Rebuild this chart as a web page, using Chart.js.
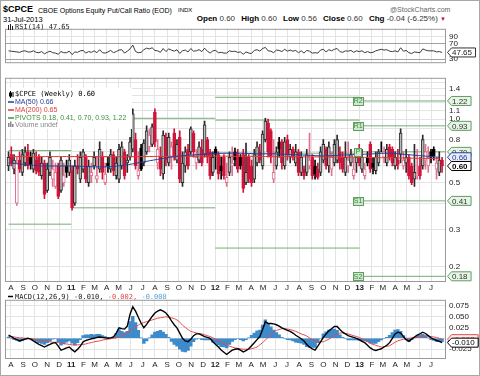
<!DOCTYPE html>
<html>
<head>
<meta charset="utf-8">
<script src="https://cdn.jsdelivr.net/npm/chart.js@4.4.0/dist/chart.umd.min.js"></script>
<style>
  body { margin: 0; background: #fff; }
  #wrap { position: relative; width: 480px; height: 376px; overflow: hidden; font-family: "Liberation Sans", Arial, sans-serif; }
  #wrap canvas { position: absolute; left: 0; }
  .t { position: absolute; white-space: nowrap; color: #000; }
  .frame { position: absolute; left: 0; top: 0; width: 480px; height: 376px; box-sizing: border-box; border: 1px solid #a8a8a8; pointer-events: none; }
  .hdr b { margin-left: 4px; }
</style>
</head>
<body>
<div id="wrap">
  <div class="t" style="left:3px;top:5px;font-size:9px;line-height:9px;font-weight:bold">$CPCE</div>
  <div class="t" style="left:38px;top:6.5px;font-size:7px;line-height:7px">CBOE Options Equity Put/Call Ratio (EOD)</div>
  <div class="t" style="left:178px;top:7px;font-size:6px;line-height:6px">INDX</div>
  <div class="t" style="left:3px;top:15.5px;font-size:7.5px;line-height:7.5px">31-Jul-2013</div>
  <div class="t" style="left:390px;top:6px;font-size:7px;line-height:7px;color:#666">@StockCharts.com</div>
  <div class="t hdr" style="right:34px;top:14.5px;font-size:8px;line-height:8px;color:#333"><b style="color:#000">Open</b> 0.60 <b style="color:#000">High</b> 0.60 <b style="color:#000">Low</b> 0.56 <b style="color:#000">Close</b> 0.60 <b style="color:#000">Chg</b> -0.04 (-6.25%) <span style="color:#c8102e;font-size:6px">&#9660;</span></div>
  <canvas id="rsi" width="480" height="49" style="top:21px"></canvas>
  <canvas id="price" width="480" height="223" style="top:70px"></canvas>
  <canvas id="macd" width="480" height="78" style="top:292px"></canvas>
  <div class="frame"></div>
</div>
<script>
// month labels, Aug 2010 .. Jul 2013
const tickLabels = ['A','S','O','N','D','11','F','M','A','M','J','J','A','S','O','N','D','12',
  'F','M','A','M','J','J','A','S','O','N','D','13','F','M','A','M','J','J'];

// weekly candles, first week starts 26-Jul-2010
const open = [
  0.60,0.68,0.58,0.40,0.64,0.56,0.62,0.70,0.66,0.58,
  0.64,0.66,0.54,0.62,0.46,0.56,0.52,0.48,0.60,0.46,
  0.50,0.60,0.56,0.57,0.40,0.60,0.52,0.58,0.66,0.50,
  0.54,0.60,0.52,0.58,0.66,0.50,0.62,0.58,0.68,0.54,
  0.52,0.60,0.70,0.62,0.66,0.72,0.80,0.54,0.73,0.62,
  0.70,0.74,0.76,1.08,0.62,0.66,0.55,0.82,0.62,0.66,
  0.86,0.64,0.82,0.50,0.60,0.72,0.70,0.86,0.62,0.64,
  0.72,0.68,0.80,0.70,0.56,0.72,0.68,0.60,0.66,0.50,
  0.56,0.60,0.70,0.68,0.66,0.68,0.50,0.66,0.60,0.52,
  0.62,0.70,0.60,0.80,0.96,0.88,0.52,0.60,0.78,0.78,
  0.60,0.80,0.66,0.72,0.62,0.70,0.56,0.58,0.56,0.60,
  0.66,0.60,0.58,0.56,0.64,0.72,0.60,0.58,0.62,0.64,
  0.70,0.66,0.56,0.60,0.62,0.54,0.62,0.70,0.58,0.54,
  0.66,0.76,0.62,0.57,0.62,0.75,0.66,0.62,0.74,0.72,
  0.60,0.64,0.68,0.60,0.62,0.66,0.60,0.52,0.54,0.60,
  0.60,0.64,0.60,0.70,0.72,0.58,0.56,0.64];
const high = [
  0.70,0.74,0.68,0.66,0.70,0.72,0.74,0.76,0.70,0.72,
  0.70,0.68,0.66,0.64,0.62,0.70,0.64,0.62,0.62,0.66,
  0.62,0.64,0.68,0.60,0.64,0.68,0.70,0.72,0.68,0.64,
  0.62,0.70,0.66,0.78,0.70,0.62,0.66,0.72,0.70,0.66,
  0.76,0.78,0.72,0.68,0.82,1.12,0.86,0.70,0.76,0.80,
  0.93,0.90,0.95,1.12,0.80,0.74,0.88,0.86,0.86,0.78,
  0.90,0.80,0.88,0.70,0.74,0.76,0.92,0.88,0.72,0.78,
  0.80,0.98,0.82,0.72,0.70,0.74,0.70,0.66,0.68,0.62,
  0.70,0.74,0.73,0.72,0.68,0.72,0.77,0.68,0.64,0.72,
  0.78,0.76,0.88,1.01,1.00,0.90,0.80,0.74,0.82,0.80,
  0.82,0.84,0.76,0.74,0.76,0.72,0.70,0.60,0.72,0.86,
  0.68,0.64,0.62,0.74,0.80,0.74,0.78,0.70,0.80,0.84,
  0.74,0.70,0.78,0.78,0.72,0.66,0.70,0.76,0.72,0.62,
  0.70,0.78,0.66,0.70,0.72,0.78,0.74,0.76,0.76,0.74,
  0.70,0.72,0.90,0.70,0.72,0.68,0.62,0.76,0.72,0.66,
  0.84,0.76,0.74,0.72,0.74,0.66,0.70,0.66];
const low = [
  0.57,0.60,0.55,0.39,0.56,0.54,0.60,0.58,0.58,0.56,
  0.55,0.54,0.52,0.42,0.45,0.54,0.48,0.47,0.42,0.45,
  0.48,0.53,0.54,0.37,0.39,0.55,0.50,0.56,0.50,0.48,
  0.50,0.58,0.50,0.56,0.52,0.49,0.56,0.56,0.54,0.52,
  0.50,0.58,0.52,0.56,0.64,0.70,0.58,0.52,0.57,0.60,
  0.68,0.70,0.74,0.74,0.58,0.54,0.52,0.60,0.60,0.58,
  0.64,0.62,0.50,0.48,0.56,0.58,0.68,0.66,0.58,0.62,
  0.60,0.66,0.62,0.52,0.54,0.58,0.52,0.52,0.52,0.48,
  0.54,0.54,0.60,0.56,0.58,0.45,0.49,0.50,0.48,0.50,
  0.60,0.62,0.58,0.78,0.66,0.62,0.50,0.58,0.66,0.58,
  0.58,0.64,0.62,0.64,0.60,0.54,0.54,0.52,0.54,0.58,
  0.52,0.52,0.52,0.54,0.62,0.58,0.56,0.54,0.60,0.62,
  0.58,0.56,0.54,0.56,0.60,0.52,0.56,0.60,0.56,0.52,
  0.60,0.56,0.55,0.55,0.60,0.70,0.62,0.60,0.64,0.60,
  0.58,0.58,0.62,0.58,0.56,0.52,0.49,0.48,0.52,0.52,
  0.58,0.58,0.56,0.62,0.64,0.52,0.54,0.56];
const close = [
  0.66,0.62,0.64,0.62,0.58,0.68,0.70,0.60,0.61,0.69,
  0.57,0.56,0.62,0.44,0.58,0.66,0.58,0.56,0.43,0.64,
  0.54,0.56,0.64,0.38,0.60,0.58,0.66,0.70,0.52,0.60,
  0.56,0.66,0.54,0.72,0.56,0.55,0.60,0.68,0.57,0.62,
  0.72,0.74,0.54,0.64,0.78,1.06,0.60,0.57,0.58,0.77,
  0.88,0.84,0.92,0.78,0.72,0.58,0.84,0.64,0.82,0.74,
  0.66,0.76,0.52,0.62,0.70,0.60,0.90,0.70,0.66,0.74,
  0.62,0.94,0.66,0.54,0.66,0.68,0.55,0.57,0.54,0.53,
  0.66,0.62,0.64,0.58,0.60,0.47,0.56,0.52,0.50,0.68,
  0.74,0.64,0.85,0.98,0.70,0.66,0.56,0.70,0.72,0.62,
  0.78,0.68,0.72,0.66,0.70,0.56,0.66,0.54,0.68,0.64,
  0.54,0.55,0.53,0.70,0.76,0.60,0.74,0.66,0.76,0.80,
  0.62,0.58,0.66,0.64,0.68,0.58,0.66,0.62,0.66,0.58,
  0.62,0.58,0.59,0.66,0.70,0.75,0.70,0.72,0.66,0.62,
  0.66,0.61,0.86,0.64,0.66,0.54,0.50,0.56,0.55,0.54,
  0.80,0.70,0.66,0.66,0.67,0.62,0.64,0.60];

// RSI(14), weekly
const rsi = [
  52,51,50,49,48,51,52,49,49,52, 48,47,50,44,48,51,47,46,43,50,
  47,47,51,42,49,48,52,53,46,50, 48,52,47,55,47,46,49,53,47,50,
  54,55,46,51,57,67,50,47,48,55, 59,57,60,53,52,48,58,50,57,54,
  51,55,45,52,54,49,58,51,52,55, 50,59,51,46,52,53,47,48,46,46,
  52,50,51,48,49,43,49,46,45,53, 55,51,58,61,52,51,47,54,53,50,
  56,51,54,51,53,47,52,46,53,51, 46,47,46,54,56,49,55,52,56,58,
  50,48,52,51,53,48,52,50,52,47, 50,47,48,52,54,56,54,55,51,50,
  52,49,60,51,53,47,45,49,48,47, 57,54,52,52,52,49,50,47.65];

// moving averages, one value every 6 weeks
const ma50 = [0.62,0.61,0.60,0.60,0.60,0.595,0.595,0.605,0.625,0.645,0.665,0.675,0.685,0.69,
  0.69,0.685,0.685,0.68,0.675,0.67,0.675,0.68,0.685,0.69,0.68,0.67,0.66];
const ma200 = [0.665,0.665,0.665,0.665,0.665,0.665,0.664,0.664,0.665,0.666,0.667,0.668,0.668,0.668,
  0.667,0.666,0.665,0.664,0.663,0.662,0.661,0.66,0.658,0.656,0.654,0.652,0.65];

// yearly pivot levels
const pivotYears = [2010, 2011, 2012, 2013];
const pivotR2 = [null, null, 1.27, 1.22];
const pivotR1 = [null, 1.01, 0.99, 0.93];
const pivotP  = [0.71, 0.665, 0.69, 0.70];
const pivotS1 = [0.318, 0.38, 0.245, 0.41];
const pivotS2 = [null, null, null, 0.18];

// MACD(12,26,9), weekly
const macd = [
  0.007,0.004,0.000,-0.003,-0.006,-0.004,-0.002,0.000,-0.002,-0.006,
  -0.010,-0.014,-0.017,-0.020,-0.017,-0.014,-0.011,-0.010,-0.018,-0.027,
  -0.025,-0.022,-0.020,-0.026,-0.031,-0.025,-0.018,-0.008,-0.005,-0.003,
  -0.001,0.000,0.002,0.003,0.002,0.001,0.000,0.001,0.003,0.012,
  0.024,0.022,0.021,0.028,0.055,0.072,0.062,0.048,0.035,0.024,
  0.032,0.041,0.050,0.058,0.062,0.065,0.062,0.058,0.050,0.040,
  0.031,0.024,0.012,0.000,-0.006,-0.008,-0.002,0.006,0.010,0.010,
  0.007,0.004,0.002,0.000,-0.008,-0.014,-0.020,-0.027,-0.032,-0.037,
  -0.032,-0.027,-0.025,-0.024,-0.027,-0.031,-0.028,-0.024,-0.017,-0.010,
  -0.003,0.004,0.020,0.038,0.034,0.034,0.033,0.031,0.028,0.024,
  0.021,0.018,0.016,0.012,0.007,0.003,-0.001,-0.006,-0.014,-0.020,
  -0.024,-0.027,-0.018,-0.008,0.002,0.010,0.017,0.022,0.027,0.027,
  0.020,0.014,0.010,0.006,0.004,0.002,0.000,-0.003,-0.007,-0.010,
  -0.016,-0.022,-0.026,-0.028,-0.026,-0.024,-0.020,-0.016,-0.010,0.000,
  0.010,0.014,0.012,0.004,-0.003,-0.007,-0.002,0.003,0.007,0.010,
  0.014,0.011,0.006,0.001,-0.002,-0.005,-0.007,-0.010];
const signal = [
  0.004,0.004,0.003,0.002,0.001,0.001,0.000,0.000,-0.001,-0.002,
  -0.003,-0.004,-0.005,-0.006,-0.007,-0.008,-0.009,-0.009,-0.010,-0.011,
  -0.012,-0.013,-0.014,-0.015,-0.015,-0.015,-0.015,-0.014,-0.013,-0.011,
  -0.010,-0.008,-0.007,-0.006,-0.004,-0.003,-0.002,-0.001,0.000,0.001,
  0.004,0.006,0.008,0.012,0.017,0.022,0.026,0.030,0.034,0.036,
  0.038,0.040,0.042,0.044,0.046,0.047,0.048,0.049,0.048,0.047,
  0.045,0.042,0.037,0.030,0.025,0.020,0.016,0.014,0.012,0.011,
  0.010,0.008,0.006,0.004,0.001,-0.002,-0.005,-0.008,-0.012,-0.015,
  -0.018,-0.020,-0.022,-0.023,-0.024,-0.025,-0.025,-0.025,-0.024,-0.022,
  -0.020,-0.015,-0.010,-0.004,0.002,0.008,0.014,0.018,0.020,0.022,
  0.022,0.021,0.020,0.018,0.016,0.013,0.010,0.008,0.005,0.001,
  -0.003,-0.006,-0.008,-0.008,-0.008,-0.005,-0.002,0.002,0.006,0.009,
  0.012,0.012,0.011,0.010,0.008,0.006,0.004,0.002,-0.001,-0.004,
  -0.008,-0.011,-0.014,-0.016,-0.018,-0.020,-0.019,-0.018,-0.017,-0.013,
  -0.009,-0.006,-0.004,-0.002,0.000,0.000,0.001,0.001,0.002,0.003,
  0.005,0.005,0.005,0.004,0.003,0.002,0.000,-0.002];
const hist = [
  0.003,0.000,-0.003,-0.005,-0.007,-0.005,-0.002,0.000,-0.001,-0.004,
  -0.007,-0.010,-0.012,-0.014,-0.010,-0.006,-0.002,-0.001,-0.008,-0.016,
  -0.013,-0.009,-0.006,-0.011,-0.016,-0.010,-0.003,0.006,0.008,0.008,
  0.009,0.008,0.009,0.009,0.006,0.004,0.002,0.002,0.003,0.011,
  0.020,0.016,0.013,0.016,0.038,0.050,0.036,0.018,0.001,-0.012,
  -0.006,0.001,0.008,0.014,0.016,0.018,0.014,0.009,0.002,-0.007,
  -0.014,-0.018,-0.025,-0.030,-0.031,-0.028,-0.018,-0.008,-0.002,-0.001,
  -0.003,-0.004,-0.004,-0.004,-0.009,-0.012,-0.015,-0.019,-0.020,-0.022,
  -0.014,-0.007,-0.003,-0.001,-0.003,-0.006,-0.003,0.001,0.007,0.012,
  0.017,0.019,0.030,0.042,0.032,0.026,0.019,0.013,0.008,0.002,
  -0.001,-0.003,-0.004,-0.006,-0.009,-0.010,-0.011,-0.014,-0.019,-0.021,
  -0.021,-0.021,-0.010,0.000,0.010,0.015,0.019,0.020,0.021,0.018,
  0.008,0.002,-0.001,-0.004,-0.004,-0.004,-0.004,-0.005,-0.006,-0.006,
  -0.008,-0.011,-0.012,-0.012,-0.008,-0.004,-0.001,0.002,0.007,0.013,
  0.019,0.020,0.016,0.006,-0.003,-0.007,-0.003,0.002,0.005,0.007,
  0.009,0.006,0.001,-0.003,-0.005,-0.007,-0.007,-0.008];

const rsiTicks = [30, 70, 90];
const priceTicks = [0.2,0.3,0.4,0.5,0.6,0.7,0.8,0.9,1.0,1.1,1.2,1.3,1.4,1.5];
const priceLabelled = [0.2,0.3,0.5,0.8,1.0,1.1,1.4];
const macdTicks = [-0.025, 0, 0.025, 0.05, 0.075];

[open, high, low, close, rsi, macd, signal, hist].forEach((a, k) => {
  if (a.length !== 158) throw new Error('series ' + k + ' has ' + a.length);
});

// x axis in days from 1-Aug-2010
const DAY = 86400000;
const ORIGIN = Date.UTC(2010, 7, 1);
const dayOf = (y, m, d) => (Date.UTC(y, m, d) - ORIGIN) / DAY;
const weekX = i => dayOf(2010, 6, 26) + 7 * i;
const monthTicks = tickLabels.map((_, k) => dayOf(2010, 7 + k, 1));
const X_MIN = -15, X_MAX = 1103;

const GRID = '#e3e3e3';
const RED = '#d2143a', PINK = '#e2708f';

function xAxis(showLabels) {
  return {
    type: 'linear', min: X_MIN, max: X_MAX, offset: false,
    afterBuildTicks: s => { s.ticks = monthTicks.map(v => ({ value: v })); },
    afterFit: s => { s.height = showLabels ? 12 : 0; },
    grid: { color: GRID, drawTicks: false, offset: false },
    border: { display: false },
    ticks: {
      display: showLabels, autoSkip: false, maxRotation: 0, padding: 2, color: '#222',
      font: c => ({ family: 'Liberation Sans', size: 8, weight: /^\d/.test(tickLabels[c.index] || '') ? 'bold' : 'normal' }),
      callback: (v, i) => tickLabels[i]
    }
  };
}

function yTicks(extra) {
  return Object.assign({ padding: 3, color: '#222', font: { family: 'Liberation Sans', size: 8 } }, extra);
}

const baseOptions = {
  responsive: false, animation: false, events: [],
  layout: { padding: { left: 5, right: 0, top: 0, bottom: 0 } },
  plugins: { legend: { display: false }, tooltip: { enabled: false } }
};

function tag(ctx, x, y, text, stroke, fill, color, bold) {
  ctx.save();
  ctx.font = (bold ? 'bold ' : '') + '8px "Liberation Sans"';
  const w = ctx.measureText(text).width + 5, h = 9;
  ctx.beginPath();
  ctx.moveTo(x + 0.5, y);
  ctx.lineTo(x + 4.5, y - h / 2);
  ctx.lineTo(x + w + 3.5, y - h / 2);
  ctx.lineTo(x + w + 3.5, y + h / 2);
  ctx.lineTo(x + 4.5, y + h / 2);
  ctx.closePath();
  ctx.fillStyle = fill; ctx.fill();
  ctx.strokeStyle = stroke; ctx.lineWidth = 1; ctx.stroke();
  ctx.fillStyle = color; ctx.textBaseline = 'middle';
  ctx.fillText(text, x + 5, y + 0.5);
  ctx.restore();
}

function border(chart) {
  const a = chart.chartArea, ctx = chart.ctx;
  ctx.save();
  ctx.strokeStyle = '#9a9a9a'; ctx.lineWidth = 1;
  ctx.strokeRect(a.left + 0.5, a.top + 0.5, a.right - a.left - 1, a.bottom - a.top);
  ctx.restore();
}

function legendLine(ctx, y, color, text, font, x) {
  ctx.strokeStyle = color; ctx.lineWidth = 1.5;
  ctx.beginPath(); ctx.moveTo(8, y); ctx.lineTo(14, y); ctx.stroke();
  ctx.fillStyle = color; ctx.font = font; ctx.textBaseline = 'middle';
  ctx.fillText(text, x || 15, y + 0.5);
}

// ---------- RSI panel ----------
new Chart(document.getElementById('rsi'), {
  type: 'line',
  data: { datasets: [{
    data: rsi.map((v, i) => ({ x: weekX(i), y: v })),
    borderColor: '#3a3a3a', borderWidth: 1, pointRadius: 0, tension: 0
  }] },
  options: Object.assign({}, baseOptions, {
    scales: {
      x: xAxis(false),
      y: {
        position: 'right', min: 22, max: 110,
        afterFit: s => { s.width = 34; },
        afterBuildTicks: s => { s.ticks = rsiTicks.map(v => ({ value: v })); },
        grid: { drawTicks: false, color: c => (c.tick && c.tick.value === 90) ? GRID : '#a0a0a0' },
        border: { display: false },
        ticks: yTicks({})
      }
    }
  }),
  plugins: [{
    id: 'rsiDecor',
    afterDraw(chart) {
      const ctx = chart.ctx;
      border(chart);
      ctx.save();
      ctx.fillStyle = '#222';
      ctx.fillRect(8, 4, 1, 5); ctx.fillRect(10, 3, 1, 6); ctx.fillRect(12, 5, 1, 4);
      ctx.font = '7px "DejaVu Sans Mono"'; ctx.textBaseline = 'middle';
      ctx.fillText('RSI(14) ' + rsi[rsi.length - 1].toFixed(2), 15, 6.5);
      ctx.restore();
      const y = chart.scales.y.getPixelForValue(rsi[rsi.length - 1]);
      tag(ctx, chart.chartArea.right + 1, y, rsi[rsi.length - 1].toFixed(2), '#333', '#fff', '#222', false);
    }
  }]
});

// ---------- price panel ----------
const candleStyle = close.map((c, i) => {
  const prev = i ? close[i - 1] : open[i];
  const up = c >= prev, hollow = c > open[i];
  if (hollow) return up ? { fill: '#b9b9b9', line: '#2a2a2a' } : { fill: '#ffffff', line: PINK };
  return up ? { fill: '#000', line: '#000' } : { fill: RED, line: RED };
});

const pivotSets = [];
const levelSets = [pivotR2, pivotR1, pivotP, pivotS1, pivotS2];
pivotYears.forEach((yr, k) => {
  const x0 = k === 0 ? weekX(0) : dayOf(yr, 0, 1);
  const x1 = yr === 2013 ? X_MAX : dayOf(yr + 1, 0, 1);
  levelSets.forEach(arr => {
    if (arr[k] == null) return;
    pivotSets.push({
      type: 'line', order: 6,
      data: [{ x: x0, y: arr[k] }, { x: x1, y: arr[k] }],
      borderColor: '#74ad74', borderWidth: 1, pointRadius: 0
    });
  });
});

new Chart(document.getElementById('price'), {
  type: 'bar',
  data: { datasets: pivotSets.concat([
    {
      order: 5, grouped: false, barThickness: 1,
      data: close.map((c, i) => ({ x: weekX(i), y: [low[i], high[i]] })),
      backgroundColor: candleStyle.map(s => s.line)
    },
    {
      order: 4, grouped: false, barThickness: 3, borderWidth: 1, borderSkipped: false,
      data: close.map((c, i) => ({ x: weekX(i), y: [Math.min(open[i], c), Math.max(open[i], c)] })),
      backgroundColor: candleStyle.map(s => s.fill),
      borderColor: candleStyle.map(s => s.line)
    },
    {
      type: 'line', order: 2,
      data: ma200.map((v, k) => ({ x: weekX(6 * k), y: v })),
      borderColor: '#e03a3a', borderWidth: 1, pointRadius: 0, tension: 0.3
    },
    {
      type: 'line', order: 1,
      data: ma50.map((v, k) => ({ x: weekX(6 * k), y: v })),
      borderColor: '#23409c', borderWidth: 1, pointRadius: 0, tension: 0.3
    }
  ]) },
  options: Object.assign({}, baseOptions, {
    scales: {
      x: xAxis(true),
      y: {
        type: 'logarithmic', position: 'right', min: 0.171, max: 1.571,
        afterFit: s => { s.width = 34; },
        afterBuildTicks: s => { s.ticks = priceTicks.map(v => ({ value: v })); },
        grid: { color: GRID, drawTicks: false },
        border: { display: false },
        ticks: yTicks({ callback: v => priceLabelled.includes(v) ? v.toFixed(1) : '' })
      }
    }
  }),
  plugins: [{
    id: 'priceDecor',
    afterDraw(chart) {
      const ctx = chart.ctx, a = chart.chartArea, ys = chart.scales.y, xs = chart.scales.x;
      border(chart);
      ctx.save();
      // legend
      ctx.fillStyle = '#fff';
      ctx.fillRect(a.left + 1, 18, 126, 41);
      ctx.fillStyle = '#000';
      ctx.fillRect(10, 21, 1, 7); ctx.fillRect(9, 22.5, 3, 4);
      ctx.fillRect(12.5, 22, 1, 5);
      ctx.font = '7px "DejaVu Sans Mono"'; ctx.textBaseline = 'middle';
      ctx.fillText('$CPCE (Weekly) ' + close[close.length - 1].toFixed(2), 15, 24.5);
      const small = '7px "Liberation Sans"';
      legendLine(ctx, 32, '#23409c', 'MA(50) ' + ma50[ma50.length - 1].toFixed(2), small);
      legendLine(ctx, 40, '#e03a3a', 'MA(200) ' + ma200[ma200.length - 1].toFixed(2), small);
      const last = pivotYears.length - 1;
      const piv = [pivotS2[last], pivotS1[last], pivotP[last], pivotR1[last], pivotR2[last]];
      legendLine(ctx, 48, '#3f8f3f', 'PIVOTS ' + piv.map(v => v.toFixed(2)).join(', '), small);
      ctx.fillStyle = '#888';
      ctx.fillRect(8, 53, 1.5, 4); ctx.fillRect(10, 51.5, 1.5, 5.5); ctx.fillRect(12, 54, 1.5, 3);
      ctx.font = small; ctx.fillText('Volume undef', 15, 55.5);

      // pivot name boxes at the start of the current year
      const bx = xs.getPixelForValue(dayOf(2013, 0, 1)) - 2;
      const names = ['R2', 'R1', 'P', 'S1', 'S2'];
      const vals = [pivotR2[last], pivotR1[last], pivotP[last], pivotS1[last], pivotS2[last]];
      ctx.font = '7px "Liberation Sans"';
      names.forEach((n, k) => {
        const y = ys.getPixelForValue(vals[k]);
        const w = n.length > 1 ? 10 : 7;
        ctx.fillStyle = '#cfe7cf'; ctx.strokeStyle = '#5e9e5e'; ctx.lineWidth = 1;
        ctx.fillRect(Math.round(bx - w / 2) + 0.5, Math.round(y - 4) + 0.5, w, 8);
        ctx.strokeRect(Math.round(bx - w / 2) + 0.5, Math.round(y - 4) + 0.5, w, 8);
        ctx.fillStyle = '#3a8a3a'; ctx.textAlign = 'center'; ctx.textBaseline = 'middle';
        ctx.fillText(n, bx + 0.5, y + 0.5);
      });
      ctx.restore();

      // value tags on the right
      const tx = a.right + 1;
      vals.forEach(v => tag(ctx, tx, ys.getPixelForValue(v), v.toFixed(2), '#5e9e5e', '#e6f3e6', '#333', false));
      const m50 = ma50[ma50.length - 1];
      tag(ctx, tx, ys.getPixelForValue(m50), m50.toFixed(2), '#23409c', '#e9edf8', '#23409c', false);
      const c = close[close.length - 1];
      tag(ctx, tx, ys.getPixelForValue(c), c.toFixed(2), '#000', '#fff', '#000', true);
    }
  }]
});

// ---------- MACD panel ----------
new Chart(document.getElementById('macd'), {
  type: 'bar',
  data: { datasets: [
    {
      order: 3, grouped: false, barThickness: 2.8,
      data: hist.map((v, i) => ({ x: weekX(i), y: v })),
      backgroundColor: '#3d8bcb'
    },
    {
      type: 'line', order: 2,
      data: signal.map((v, i) => ({ x: weekX(i), y: v })),
      borderColor: '#e34b4b', borderWidth: 1, pointRadius: 0, tension: 0.3
    },
    {
      type: 'line', order: 1,
      data: macd.map((v, i) => ({ x: weekX(i), y: v })),
      borderColor: '#000', borderWidth: 1.4, pointRadius: 0, tension: 0
    }
  ] },
  options: Object.assign({}, baseOptions, {
    scales: {
      x: xAxis(true),
      y: {
        position: 'right', min: -0.0451, max: 0.0881,
        afterFit: s => { s.width = 34; },
        afterBuildTicks: s => { s.ticks = macdTicks.map(v => ({ value: v })); },
        grid: { color: GRID, drawTicks: false },
        border: { display: false },
        ticks: yTicks({ callback: v => v === 0 ? '' : v.toFixed(3) })
      }
    }
  }),
  plugins: [{
    id: 'macdDecor',
    afterDraw(chart) {
      const ctx = chart.ctx, a = chart.chartArea, ys = chart.scales.y;
      border(chart);
      const m = macd[macd.length - 1], s = signal[signal.length - 1], h = hist[hist.length - 1];
      ctx.save();
      ctx.strokeStyle = '#000'; ctx.lineWidth = 1.5;
      ctx.beginPath(); ctx.moveTo(8, 4.5); ctx.lineTo(13, 4.5); ctx.stroke();
      ctx.font = '7px "DejaVu Sans Mono"'; ctx.textBaseline = 'middle';
      let x = 15;
      const parts = [['MACD(12,26,9) ' + m.toFixed(3) + ', ', '#222'], [s.toFixed(3) + ', ', '#e34b4b'], [h.toFixed(3), '#5aa2da']];
      parts.forEach(p => { ctx.fillStyle = p[1]; ctx.fillText(p[0], x, 5); x += ctx.measureText(p[0]).width; });
      ctx.restore();
      const tx = a.right + 1;
      tag(ctx, tx, ys.getPixelForValue(h), h.toFixed(3), '#3d8bcb', '#eaf3fb', '#3d8bcb', false);
      tag(ctx, tx, ys.getPixelForValue(s), s.toFixed(3), '#e34b4b', '#fdeeee', '#e34b4b', false);
      tag(ctx, tx, ys.getPixelForValue(m), m.toFixed(3), '#000', '#fff', '#000', false);
    }
  }]
});
</script>
</body>
</html>
